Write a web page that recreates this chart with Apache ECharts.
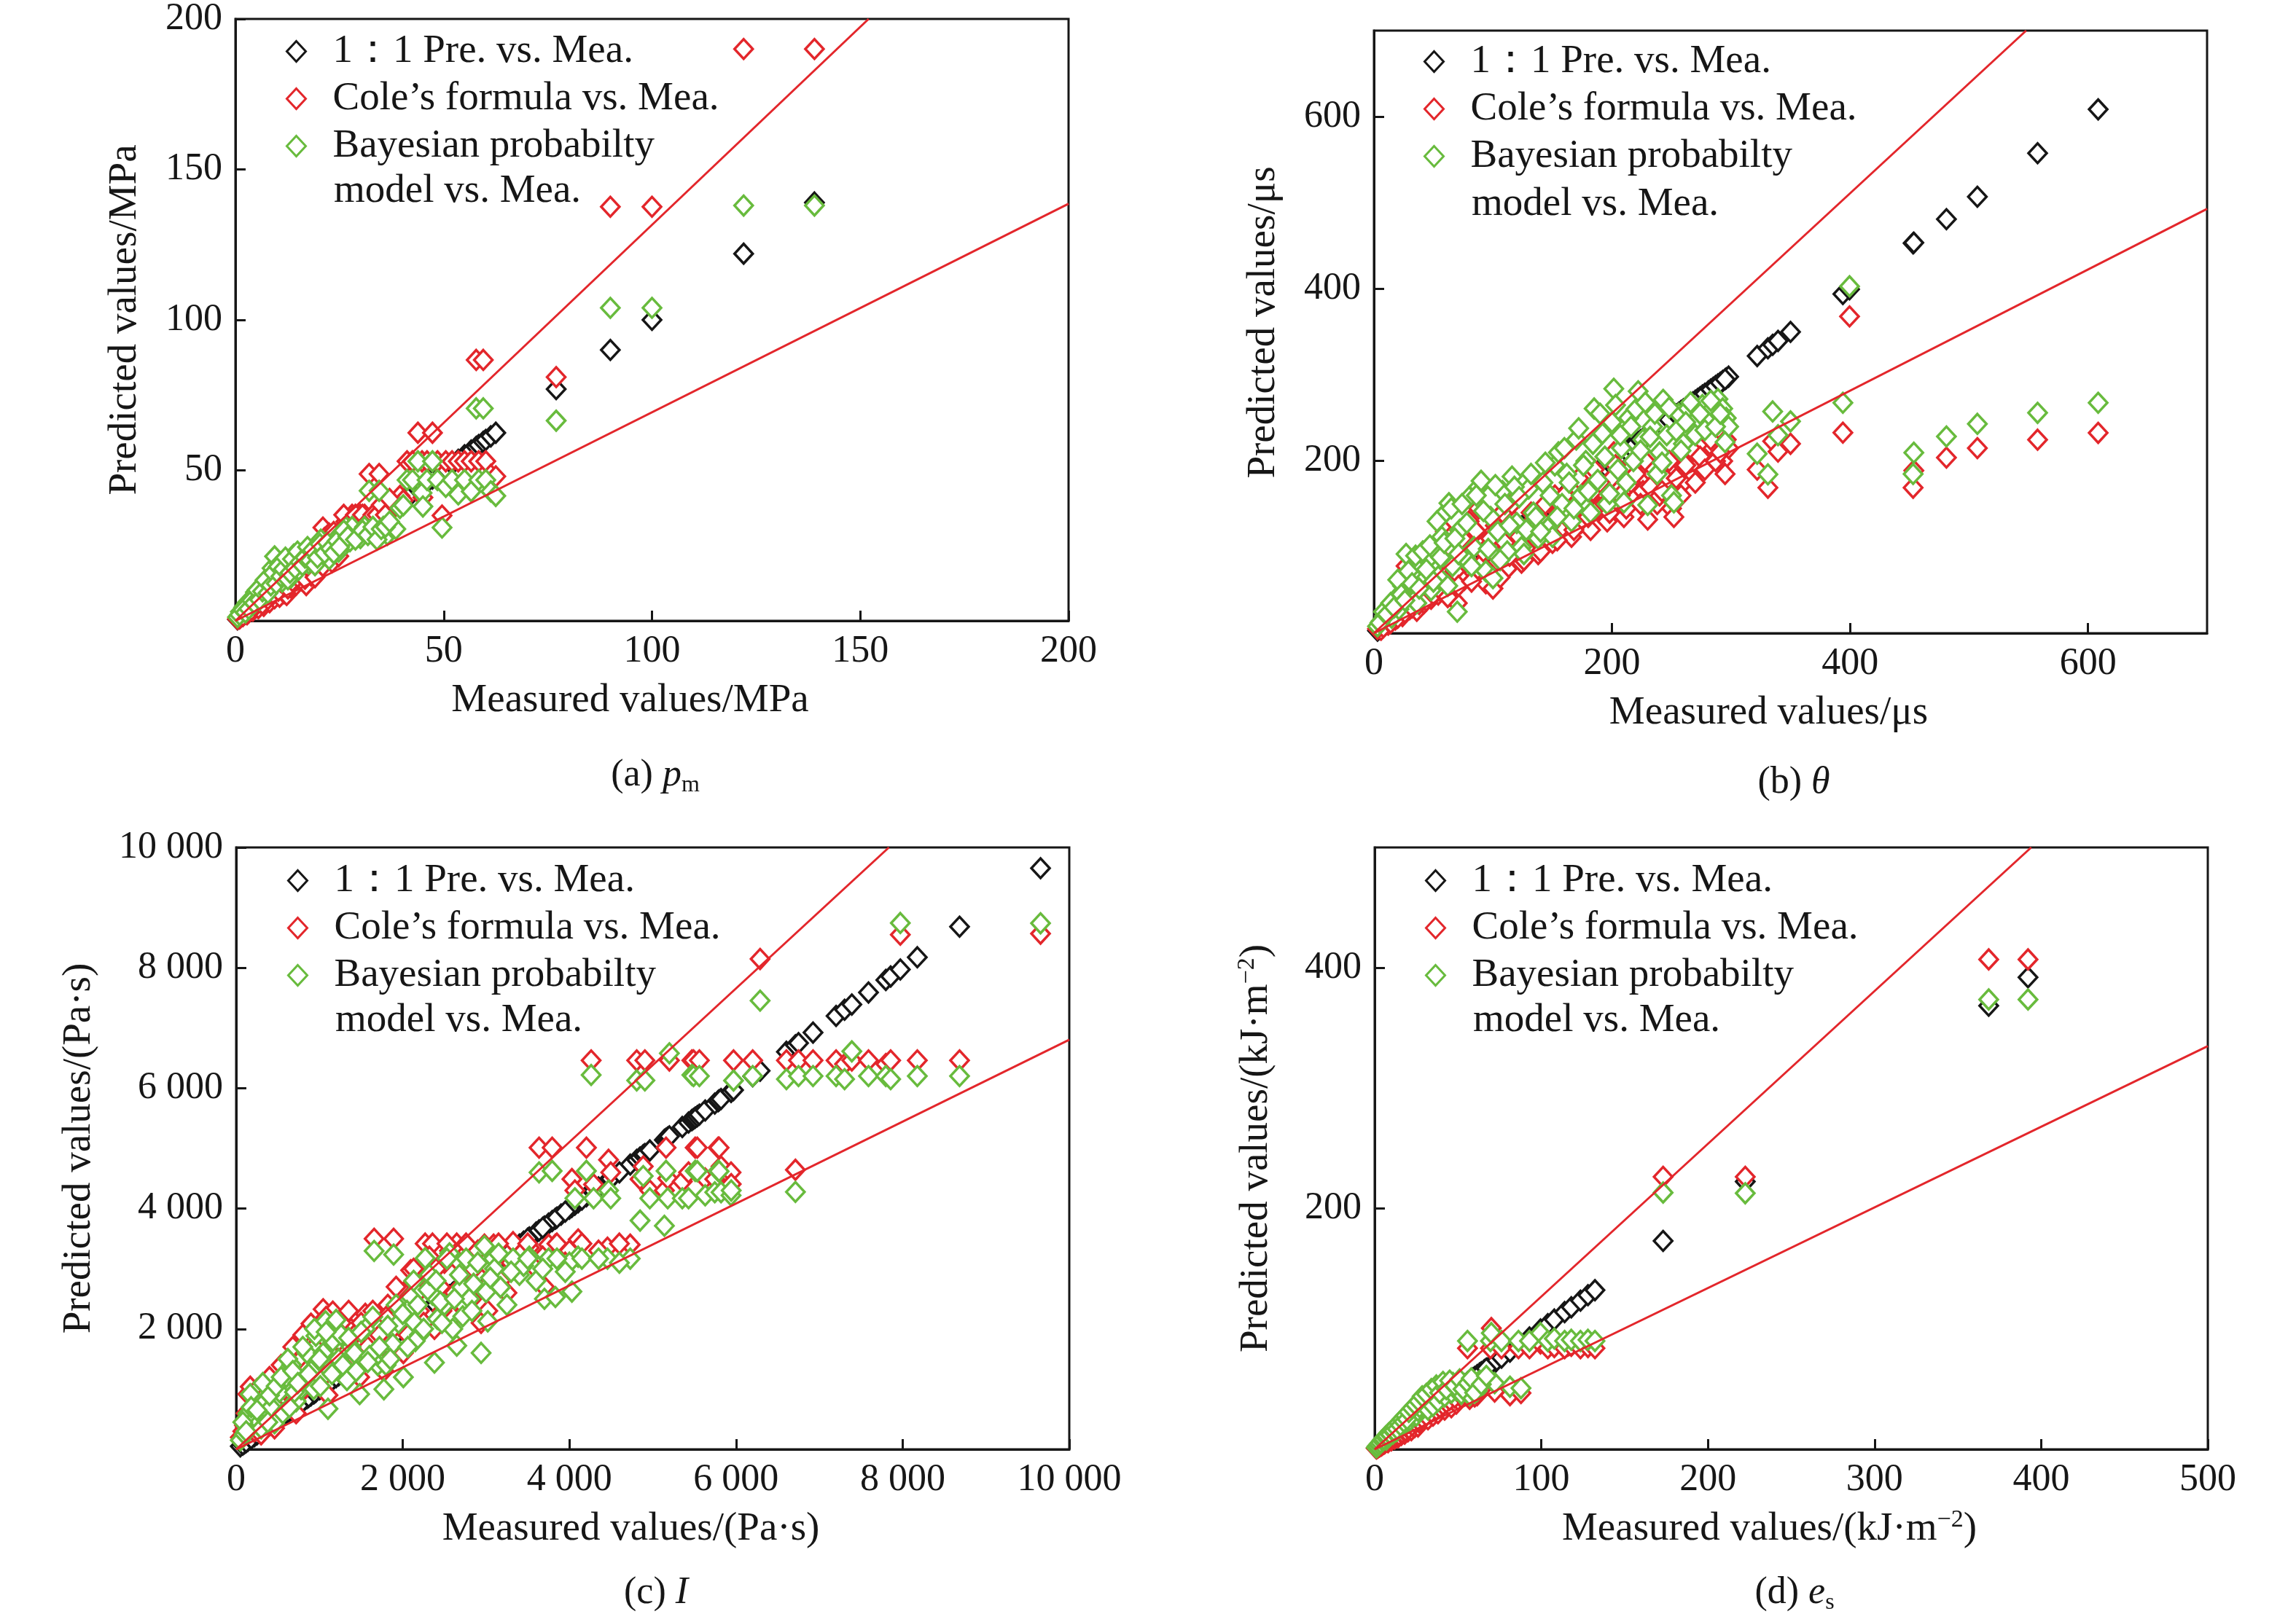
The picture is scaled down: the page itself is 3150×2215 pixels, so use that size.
<!DOCTYPE html>
<html lang="en">
<head>
<meta charset="UTF-8">
<title>Predicted vs. measured values</title>
<script src="https://cdn.jsdelivr.net/npm/echarts@6.0.0/dist/echarts.min.js"></script>
<style>
    html, body { margin: 0; padding: 0; background: #ffffff; }
    #chart { width: 3150px; height: 2215px; }
</style>
</head>
<body>
<div id="chart"></div>
<script>
// (a) peak pressure p_m, MPa
var measA = [0.5,1.2,2.0,2.8,3.5,4.2,4.8,5.5,6.2,6.8,7.5,8.2,8.8,9.4,10.0,10.6,11.2,11.7,12.3,12.8,
    13.4,14.0,14.6,15.2,15.8,16.4,17.0,17.6,18.2,18.8,19.4,20.0,20.5,21.0,21.8,22.5,23.2,24.0,24.8,
    25.5,26.5,27.5,28,29.5,30,31,32.1,33.5,34.5,35.5,36.5,37.5,38.5,39.5,40.3,41.2,42.5,43.8,44.8,
    45,46,47.3,48.5,49.6,50.5,52,53.5,55,56.6,57.8,58.4,59.5,60.1,61.3,62.5,77,90,100,122,139];
var coleA = [0.6,1.4,2.6,2.2,4.6,3.4,6.0,4.2,7.8,5.0,9.0,6.2,10.8,7.5,12.5,8.0,14.0,9.2,8.6,15.8,
    11.0,17.5,12.0,19.0,13.5,20.5,11.9,22.0,15.0,24.0,16.5,25.5,17.5,31.0,22.0,29.0,19.5,27.0,21.5,
    30,33,31,35.2,35.2,35.2,35.2,48.8,35.2,48.8,35.2,35.2,37.5,39,41.5,40,53,53,62.5,53,
    41,53,62.5,53,35,53,53,53,53,53,86.7,53,86.7,53,48.5,48,81,137.6,137.6,190,190];
var bayesA = [1.2,3.0,4.5,6.0,5.2,7.8,9.5,8.0,11.0,12.5,10.5,14.0,17.5,21.4,15.5,19.0,13.0,20.2,16.5,18.0,
    14.5,22.0,18.2,17.0,21.5,19.5,23.8,19.0,22.5,20.5,25.0,22.0,27.0,24.5,23.0,20.5,25.5,27.0,23.0,
    26,31.2,26.5,31.2,28.6,27.5,31.2,43.2,29.5,43.2,31.2,28.6,31.2,30.5,37.5,38.4,46.8,46.8,53,42.5,
    38,46.8,53,46.8,31,44.5,46.8,42,46.8,43,70.6,46.8,70.6,46.8,43,41.5,66.5,104,104,138,138];
// (a) more samples in the dense low range
var measA2 = [1.0,1.8,2.4,3.2,3.9,4.5,5.2,5.8,6.5,7.1,7.8,8.5,9.1,9.8,10.3,10.9,11.5,12.0,12.6,13.1,
    13.7,14.3,14.9,15.5,16.1,16.7,17.3,17.9,18.5,19.1,19.7,20.3,21.4,22.0,22.8,23.6,24.4,25.0,
    26.0,27.0,28.8,30.5,31.8,33.0,34.0,35.0,36.0,37.0];
var coleA2 = [0.8,1.6,3.0,2.8,3.6,5.4,5.8,6.5,5.6,8.4,7.2,9.6,8.9,11.5,10.0,13.0,12.2,14.8,10.8,16.6,
    13.2,18.4,14.6,16.0,21.6,14.0,20.0,17.2,23.0,14.5,24.6,21.0,27.5,24.0,26.5,29.5,25.0,28.5,
    35.2,30.0,35.2,35.2,33.0,35.2,35.2,38.5,35.2,40.5];
var bayesA2 = [2.0,3.6,2.8,4.0,6.8,5.9,10.2,7.0,9.8,13.5,9.2,11.8,16.0,12.4,18.0,14.8,17.2,21.0,13.8,16.0,
    20.5,17.5,23.0,19.5,18.5,21.0,24.5,20.0,23.5,18.5,21.0,25.5,22.5,26.0,24.0,22.5,26.5,24.5,
    30.0,28.0,27.0,30.0,28.5,31.2,27.0,30.5,31.2,33.0];

// (b) positive phase duration θ, μs
var measB = [3,6,9,12,15,18,21,24,27,30,33,36,39,42,45,48,51,54,57,60,63,66,70,72,76,80,84,88,90,94,
    98,100,104,108,112,116,120,124,126,130,134,138,142,146,150,152,155,158,162,166,170,174,178,182,185,
    188,192,196,200,201.5,205,208,210,214,218,222,226,230,234,238,240,243,246,250,252,256,260,264,268,
    272,276,281,285,289,293,296,298,322,331,335,339.5,350,394,399.6,453,453.6,481,507,557.6,608.5];
var coleB = [5,4,14,10,22,16,30,20,78,28,48,26,60,35,68,40,72,45,88,118,110,52,35,95,62,130,70,145,80,58,
    110,52,88,140,75,150,95,82,85,125,100,92,130,105,105,160,140,118,135,112,170,128,150,120,190,
    145,165,130,180,210,150,170,135,190,155,200,165,132,185,150,160,195,178,145,135,200,175,210,185,
    195,220,205,215,230,200,225,215,190,169,223,211,220,233,368,169,189,204,215,224.8,232.7];
var bayesB = [8,14,20,30,18,40,28,55,92,48,70,35,80,62,85,50,96,66,112,140,151,78,25,120,88,158,100,170,177,72,
    135,64,118,165,95,182,128,100,92,168,140,110,175,122,112,195,210,150,185,130,225,160,200,140,261,
    178,232,150,245,284,190,215,152,250,200,281,225,149,240,185,210,271,230,160,152,255,220,261,240,
    250,265,245,262,272,261,250,240,208.5,184.5,257.6,230,246,267.7,403,185,209.7,228.5,243.2,256,267.7];
// (b) more samples in the dense band
var measB2 = [5,8,11,14,17,20,23,26,29,32,35,38,41,44,47,50,53,56,59,62,65,68,71,74,78,82,86,92,96,102,
    106,110,114,118,122,128,132,136,140,144,148,154,160,164,168,172,176,180,184,190,194,198,203,207,212,
    216,220,224,228,232,236,242,248,254,258,262,266,270,274,278,283,287,291,295];
var coleB2 = [8,7,16,12,25,18,35,24,40,30,55,34,48,38,62,45,80,50,65,42,98,72,55,110,85,60,118,95,72,125,
    65,105,90,130,112,98,140,115,95,150,125,108,160,140,120,180,150,135,165,175,150,140,195,160,145,
    175,185,150,200,170,190,165,200,180,160,195,215,175,205,190,225,200,210,185];
var bayesB2 = [12,25,22,35,30,62,45,38,72,58,90,52,95,74,102,60,130,88,105,55,145,110,92,150,128,78,160,142,98,172,
    85,150,125,170,158,120,185,135,118,198,160,135,215,175,145,238,195,165,220,255,205,162,265,230,175,
    240,260,212,268,228,255,198,262,235,212,245,268,230,255,236,270,240,255,222];

// (c) impulse I, Pa·s
var measC = [50,100,140,169,220,280,350,420,461,520,600,665,720,780,850,898,957,1044,1073,1102,
    1160,1230,1300,1380,1482,1550,1656,1700,1773,1890,1950,2007,2095,2124,2200,2269,2357,2380,2415,2500,
    2561,2648,2707,2720,2800,2940,2980,3000,3020,3090,3173,3250,3324,3400,3519,3600,3636,3700,3793,3832,
    3900,4030,4066,4105,4204,4261,4290,4457,4470,4496,4730,4808,4848,4886,4906,4965,5140,5160,5180,5200,
    5355,5430,5470,5490,5510,5535,5560,5630,5745,5785,5797,5820,5940,5942,5970,6200,6289,6605,6713,6750,
    6924,7201,7303,7390,7590,7798,7856,7972,8176,8683,9655,
    300,380,560,640,700,820,930,1000,1130,1260,1330,1420,1600,1820,1880,2050,2150,2300,2450,2600,
    2850,3100,3450,3750,4000];
var coleC = [200,400,917,1040,300,700,500,900,350,1100,800,1300,600,1500,1100,2087,1400,2328,1900,900,
    2288,1300,1700,2000,1200,2250,3499,1500,1300,3499,2300,1600,2974,2772,2300,3418,3418,2000,2600,3100,
    3300,3418,2900,2400,3200,2100,3400,2700,2300,3400,2800,2600,3442,3100,3350,3000,5012,2700,5012,3400,
    3200,4490,4300,3487,5012,6461,4400,3350,4810,4600,3400,6461,4490,4700,6461,4300,4300,5012,4500,6461,
    4450,4600,6461,6461,5012,5012,6461,4500,4490,5012,5012,4700,4600,4407,6461,6461,8147,6461,4644,6461,
    6461,6461,6400,6461,6461,6400,6461,8550,6461,6461,8567,
    250,600,700,950,1150,1000,1200,1800,1600,2100,1400,1900,1800,2400,2000,2500,2000,2900,2700,2200,
    3000,3200,3300,3400,3300];
var bayesC = [150,250,594,917,500,450,800,700,433,950,1200,1400,800,1000,1600,1300,1885,1600,2127,674,
    1800,1500,1300,1700,917,2000,3296,1400,998,3236,2100,1200,2531,2127,1900,3176,2570,1441,2168,2400,
    3257,1723,2692,2209,2500,1602,3378,2612,2127,3168,2692,2400,3168,2900,3200,2800,4600,2500,4626,2530,
    3100,2620,4171,3200,4626,6220,4171,3168,4300,4171,3168,6130,3800,4540,6130,4171,3714,4626,4171,6580,
    4171,4171,6220,6201,4626,4620,6201,4220,4270,4626,4620,4270,4220,4300,6127,6201,7455,6150,4276,6201,
    6201,6201,6150,6612,6201,6201,6150,8745,6201,6201,8740,
    350,450,600,700,950,1150,1000,1500,1300,1900,1150,1600,1550,2050,1750,2300,1800,2650,2450,2000,
    2750,3000,3050,3168,3100];
// (c) more samples in the dense band
var measC2 = [80,120,180,250,320,400,480,540,620,680,740,800,870,940,1010,1080,1150,1200,1280,1350,
    1440,1500,1580,1640,1720,1800,1850,1920,2000,2060,2130,2180,2250,2320,2400,2470,2530,2620,2680,2760,
    2830,2900,3050,3150,3300,3500,3680,3850,3950,4150,4350,4600];
var coleC2 = [300,600,500,1000,850,1200,700,1400,1000,1700,900,1900,1350,1700,1150,2200,1400,2000,1550,2300,
    1500,2100,1700,2300,1900,2200,1700,2700,2400,1900,3000,2600,2100,3200,3000,2300,3418,2600,3100,3418,
    2500,3300,3000,3418,3100,3418,3200,3418,3100,3418,3300,3418];
var bayesC2 = [450,300,700,650,1100,900,1050,1200,1500,1300,1100,1700,1250,2000,1050,1950,1250,2150,1400,1850,
    1300,1950,1450,2200,1700,1400,1500,2400,2250,1700,2800,2400,2000,2900,2800,2100,3168,2500,2900,3168,
    2300,3100,2850,3250,2950,3168,3000,3168,2950,3168,3168,3100];

// (d) energy flux density e_s, kJ·m⁻²
var measD = [1,2,3,4,5,6,7,8,9,10,11,12,13,14,15,16,17,18,19,20,21,22,23,24,25,26,27,28,29,30,
    32,33,35,36,38,40,42,44,46,47,49,50,52,54,55.7,57,59,61.5,63,65.8,69.5,70,72,76.1,81.2,86.3,87.8,
    92.9,99.5,103.9,107.8,114,118,123.5,128,132.2,173.1,222.4,368.5,392.1];
var coleD = [0.8,1.5,2.5,3.2,4.5,5.0,6.5,6.0,8.5,7.5,10,9,11.5,10,13,12,15,13,16.5,15,18,16,20,18.5,21,19,22,37,24,27,
    25,30,28,34,30,36,33,40,35,44,38,41,43,47,84,42,50,45,52,55,84,100.7,48,84,45,84,46.8,
    84,88,84,85,84,86,84,85,84,226.4,226.4,407,407];
var bayesD = [1.5,3,4.5,6,7,9,8,12,11,14,13,17,15,19,18,21,20,24,22,26,24,28,27,30,28,32,35,41.8,38,42,
    33,45,36,48,40,52,44,55,47,55,49,52,46,54,90,45,56,48.4,57,58,90,96.6,55,90,52,90,50.8,
    90,96.6,90,92,90,91,90,91,90,213.3,212.7,373.7,373.7];
// (d) more samples in the dense band
var measD2 = [1.5,2.5,3.5,4.5,5.5,6.5,7.5,8.5,9.5,10.5,11.5,12.5,13.5,14.5,15.5,16.5,17.5,18.5,19.5,20.5,
    22.5,24.5,26.5,28.5,31,34,37,39,41,43,45,48,51,53,56,58,60,64,67];
var coleD2 = [1.2,2.2,3.0,3.8,4.8,6.0,7.0,7.8,9.0,9.5,10.5,11.0,12.5,12.0,14.5,14.0,16.0,15.5,18.0,17.5,
    20.0,22.0,23.5,26.0,28.0,31.0,33.0,35.0,37.0,39.0,41.0,43.0,46.0,48.0,51.0,53.0,44.0,50.0,58.0];
var bayesD2 = [2.5,4.0,5.5,7.5,8.5,10.5,11.0,13.5,12.5,16,15.5,19,17,22,20,25,23,28,25,31,
    34,37,40,44,46,50,53,47,56,50,57,53,58,50,55,59,47,54,61];

// bounding lines (end points)
var upperA = [[0, 0], [152, 200]],     lowerA = [[0, 0], [200, 138.6]];
var upperB = [[0, 0], [548, 700]],     lowerB = [[0, 0], [700, 493]];
var upperC = [[0, 0], [7835, 10000]], lowerC = [[0, 0], [10000, 6805]];
var upperD = [[0, 0], [394, 500]],     lowerD = [[0, 0], [500, 335]];

var FONT = 'Liberation Serif';
var K = '#161616', RED = '#e3262b', GREEN = '#68bb3d';
var N1 = '1：1 Pre. vs. Mea.', N2 = 'Cole’s formula vs. Mea.', N3 = 'Bayesian probabilty model vs. Mea.';

function pairs(xs, ys) {
    return xs.map(function (x, i) { return [x, ys[i]]; });
}
function spaced(v) {
    return String(v).replace(/\B(?=(\d{3})+(?!\d))/g, ' ');
}

var nameRich = {
    t: { fontFamily: FONT, fontSize: 55, color: K, lineHeight: 60 },
    s: { fontFamily: FONT, fontSize: 34, color: K, lineHeight: 34, verticalAlign: 'top' }
};

function xAx(grid, max, interval, name, gap, fmt) {
    return {
        gridIndex: grid, type: 'value', min: 0, max: max, interval: interval,
        name: name, nameLocation: 'middle', nameGap: gap,
        nameTextStyle: { fontFamily: FONT, fontSize: 55, color: K, padding: [0, 60, 0, 0], rich: nameRich },
        axisLine: { lineStyle: { color: K, width: 3 } },
        axisTick: { inside: true, length: 14, lineStyle: { color: K, width: 3 } },
        axisLabel: { fontFamily: FONT, fontSize: 52, color: K, margin: 16, showMaxLabel: max % interval === 0, formatter: fmt },
        splitLine: { show: false }
    };
}
function yAx(grid, max, interval, name, gap, fmt, pad) {
    return {
        gridIndex: grid, type: 'value', min: 0, max: max, interval: interval,
        name: name, nameLocation: 'middle', nameGap: gap, nameRotate: 90,
        nameTextStyle: { fontFamily: FONT, fontSize: 55, color: K, padding: pad || 0, rich: nameRich },
        axisLine: { lineStyle: { color: K, width: 3 } },
        axisTick: { inside: true, length: 14, lineStyle: { color: K, width: 3 } },
        axisLabel: { fontFamily: FONT, fontSize: 52, color: K, margin: 18, showMinLabel: false,
            showMaxLabel: max % interval === 0, formatter: fmt },
        splitLine: { show: false }
    };
}

function dots(name, color, data, i, z) {
    return {
        name: name, type: 'scatter', xAxisIndex: i, yAxisIndex: i, data: data,
        symbol: 'diamond', symbolSize: [25, 27], z: z, silent: true,
        itemStyle: { color: '#ffffff', borderColor: color, borderWidth: 3.5, opacity: 1 }
    };
}
function bound(data, i) {
    return {
        type: 'line', xAxisIndex: i, yAxisIndex: i, data: data, symbol: 'none', z: 6, silent: true,
        lineStyle: { color: RED, width: 3 }
    };
}
function plot(i, meas, cole, bayes, up, low) {
    return [
        dots(N1, K, pairs(meas, meas), i, 2),
        dots(N2, RED, pairs(meas, cole), i, 3),
        dots(N3, GREEN, pairs(meas, bayes), i, 4),
        bound(up, i),
        bound(low, i)
    ];
}

function legendAt(left, top) {
    return {
        left: left, top: top, orient: 'vertical', itemGap: 10, itemWidth: 26, itemHeight: 28,
        selectedMode: false,
        data: [
            { name: N1, icon: 'diamond', itemStyle: { color: '#fff', borderColor: K, borderWidth: 3 } },
            { name: N2, icon: 'diamond', itemStyle: { color: '#fff', borderColor: RED, borderWidth: 3 } },
            { name: N3, icon: 'diamond', itemStyle: { color: '#fff', borderColor: GREEN, borderWidth: 3 } }
        ],
        formatter: function (n) {
            return '{t|' + (n === N3 ? 'Bayesian probabilty' : n) + '}';
        },
        textStyle: {
            rich: { t: { fontFamily: FONT, fontSize: 55, color: K, lineHeight: 54, padding: [0, 0, 0, 32] } }
        }
    };
}
function moreLine(x, y) {
    return { type: 'text', x: x, y: y, silent: true,
        style: { text: 'model vs. Mea.', font: '55px "' + FONT + '"', fill: K, verticalAlign: 'middle' } };
}

var capRich = {
    t: { fontFamily: FONT, fontSize: 52, fontWeight: 'normal', color: K, lineHeight: 60 },
    i: { fontFamily: FONT, fontSize: 52, fontWeight: 'normal', color: K, lineHeight: 60, fontStyle: 'italic' },
    s: { fontFamily: FONT, fontSize: 32, fontWeight: 'normal', color: K, lineHeight: 34, verticalAlign: 'bottom' }
};
function caption(text, cx, top) {
    return { text: text, left: cx, top: top, textAlign: 'center',
        textStyle: { fontWeight: 'normal', rich: capRich } };
}

var myChart = echarts.init(document.getElementById('chart'));
var option = {
    backgroundColor: '#ffffff',
    animation: false,
    title: [
        caption('{t|(a) }{i|p}{s|m}', 894, 1029),
        caption('{t|(b) }{i|θ}', 2456, 1039),
        caption('{t|(c) }{i|I}', 895, 2151),
        caption('{t|(d) }{i|e}{s|s}', 2457, 2151)
    ],
    grid: [
        { left: 323, top: 25, width: 1143, height: 827 },
        { left: 1885, top: 42, width: 1143, height: 827 },
        { left: 324, top: 1163, width: 1143, height: 826 },
        { left: 1886, top: 1163, width: 1143, height: 826 }
    ].map(function (g) {
        g.show = true; g.borderColor = K; g.borderWidth = 3; g.containLabel = false;
        return g;
    }),
    legend: [legendAt(387, 38), legendAt(1948, 52), legendAt(389, 1176), legendAt(1950, 1176)],
    graphic: [moreLine(458, 263), moreLine(2019, 281), moreLine(460, 1401), moreLine(2021, 1401)],
    xAxis: [
        xAx(0, 200, 50, 'Measured values/MPa', 82),
        xAx(1, 700, 200, 'Measured values/μs', 82),
        xAx(2, 10000, 2000, 'Measured values/(Pa·s)', 82, spaced),
        xAx(3, 500, 100, '{t|Measured values/(kJ·m}{s|−2}{t|)}', 80)
    ],
    yAxis: [
        yAx(0, 200, 50, 'Predicted values/MPa', 124),
        yAx(1, 700, 200, 'Predicted values/μs', 124, null, [0, 0, 0, 26]),
        yAx(2, 10000, 2000, 'Predicted values/(Pa·s)', 188, spaced),
        yAx(3, 500, 200, '{t|Predicted values/(kJ·m}{s|−2}{t|)}', 132)
    ],
    series: [].concat(
        plot(0, measA.concat(measA2), coleA.concat(coleA2), bayesA.concat(bayesA2), upperA, lowerA),
        plot(1, measB.concat(measB2), coleB.concat(coleB2), bayesB.concat(bayesB2), upperB, lowerB),
        plot(2, measC.concat(measC2), coleC.concat(coleC2), bayesC.concat(bayesC2), upperC, lowerC),
        plot(3, measD.concat(measD2), coleD.concat(coleD2), bayesD.concat(bayesD2), upperD, lowerD)
    )
};
myChart.setOption(option);
</script>
</body>
</html>
